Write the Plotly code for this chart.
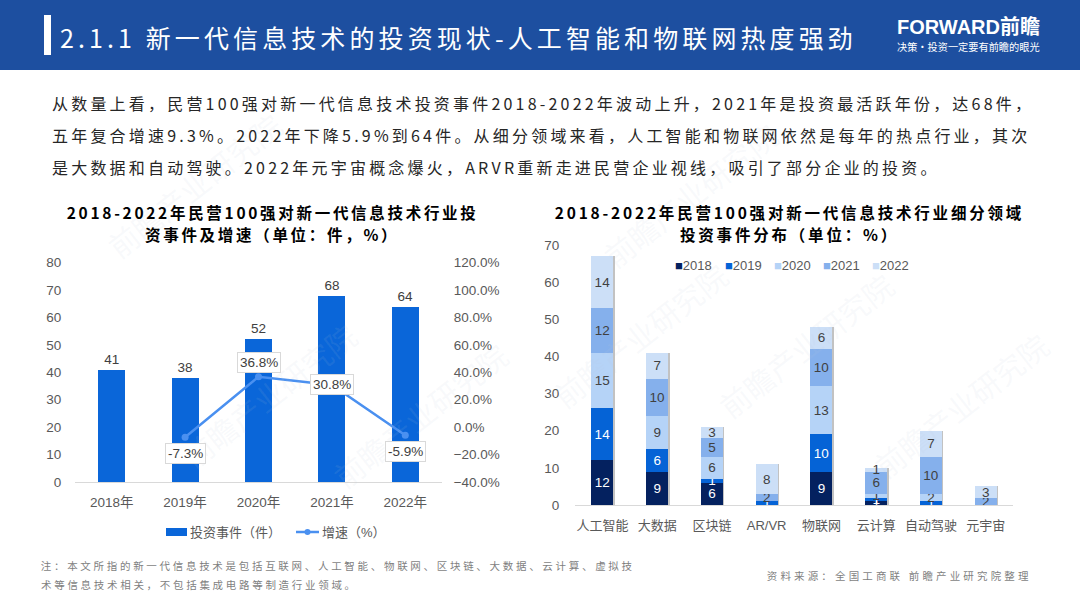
import json
import plotly.graph_objects as go

W, H = 1080, 607
CJK = "Noto Sans CJK SC"
NUM = "Liberation Sans, Noto Sans CJK SC"

# left chart
years = ["2018年", "2019年", "2020年", "2021年", "2022年"]
events = [41, 38, 52, 68, 64]
growth = [None, -7.3, 36.8, 30.8, -5.9]
growth_shift = [0, 16, -14, 0, 16]

# right chart
fields = ["人工智能", "大数据", "区块链", "AR/VR", "物联网", "云计算", "自动驾驶", "元宇宙"]
series_names = ["2018", "2019", "2020", "2021", "2022"]
series_vals = [
    [12, 9, 6, 0, 9, 1, 0, 0],
    [14, 6, 1, 1, 10, 1, 1, 0],
    [15, 9, 6, 0, 13, 1, 2, 0],
    [12, 10, 5, 2, 10, 6, 10, 2],
    [14, 7, 3, 8, 6, 1, 7, 3],
]
series_colors = ["#04215F", "#0563D6", "#B5D3F7", "#85B0EC", "#CCDFF7"]
label_colors = ["white", "white", "#404040", "#404040", "#404040"]
totals = [sum(v) for v in zip(*series_vals)]

BAR_BLUE = "#0A66D9"
LINE_BLUE = "#4A90F0"


def px(x):
    return x / W


def py(y):
    return 1 - y / H


fig = go.Figure()

# bar charts
fig.add_trace(go.Bar(x=years, y=events, name="投资事件（件）", width=0.37,
                     marker=dict(color=BAR_BLUE, line=dict(width=0)),
                     text=events, textposition="outside", cliponaxis=False,
                     textfont=dict(size=13.5, color="#404040", family=NUM),
                     xaxis="x", yaxis="y"))
fig.add_trace(go.Scatter(x=years, y=growth, name="增速（%）", mode="lines+markers",
                         line=dict(color=LINE_BLUE, width=2.5), marker=dict(size=7, color=LINE_BLUE),
                         xaxis="x", yaxis="y2"))

# shadow behind the stacks
fig.add_trace(go.Bar(x=fields, y=totals, width=0.4, hoverinfo="skip",
                     marker=dict(color="rgba(120,120,120,0.45)", line=dict(width=0)),
                     xaxis="x2", yaxis="y3"))
for name, vals, color, lab in zip(series_names, series_vals, series_colors, label_colors):
    fig.add_trace(go.Bar(x=fields, y=vals, name=name, width=0.4, cliponaxis=False,
                         marker=dict(color=color, line=dict(width=0)),
                         text=[v if v else "" for v in vals], textposition="inside",
                         insidetextanchor="middle", constraintext="none", textangle=0,
                         textfont=dict(size=13.5, color=lab, family=NUM),
                         xaxis="x3", yaxis="y4"))

tick = dict(size=13.5, color="#595959", family=NUM)
L_DOM = [px(75), px(442)]
R_DOM = [px(575), px(1013)]
L_Y = [py(482), py(262.7)]
R_Y = [py(505), py(245)]

# the keys are drawn by hand below, a native legend can't make them this small
fig.update_layout(
    width=W, height=H, margin=dict(l=0, r=0, t=0, b=0), autosize=False,
    paper_bgcolor="white", plot_bgcolor="rgba(0,0,0,0)", barmode="stack", showlegend=False,
    font=dict(family=CJK),
    xaxis=dict(domain=L_DOM, range=[-0.5, 4.5], anchor="y", showgrid=False, tickfont=tick, showline=True,
               linecolor="#D9D9D9", linewidth=1, ticks="outside", ticklen=8, tickcolor="rgba(0,0,0,0)"),
    yaxis=dict(domain=L_Y, range=[0, 80], dtick=10, showgrid=False, zeroline=False, tickfont=tick,
               ticks="outside", ticklen=10, tickcolor="rgba(0,0,0,0)"),
    yaxis2=dict(domain=L_Y, range=[-40, 120], dtick=20, overlaying="y", side="right", anchor="x", showgrid=False,
                zeroline=False, tickfont=tick, ticksuffix="%", tickformat=".1f",
                ticks="outside", ticklen=8, tickcolor="rgba(0,0,0,0)"),
    xaxis2=dict(domain=[px(576.5), px(1014.5)], range=[-0.5, 7.5], anchor="y3", visible=False),
    yaxis3=dict(domain=R_Y, range=[0, 70], anchor="x2", visible=False),
    xaxis3=dict(domain=R_DOM, range=[-0.5, 7.5], anchor="y4", showgrid=False,
                tickfont=dict(size=13, color="#595959", family=NUM),
                showline=True, linecolor="#D9D9D9", linewidth=1, ticks="outside", ticklen=8, tickcolor="rgba(0,0,0,0)"),
    yaxis4=dict(domain=R_Y, range=[0, 70], dtick=10, anchor="x3", showgrid=False, zeroline=False, tickfont=tick,
                ticks="outside", ticklen=12, tickcolor="rgba(0,0,0,0)"),
)
# template turns automargin on, and that squeezes the page vertically
fig.update_xaxes(automargin=False)
fig.update_yaxes(automargin=False)

# header band, accent
fig.add_shape(type="rect", xref="paper", yref="paper", x0=0, x1=1, y0=py(70), y1=1,
              fillcolor="#1D4FA0", line_width=0, layer="below")
fig.add_shape(type="rect", xref="paper", yref="paper", x0=px(44), x1=px(51), y0=py(55), y1=py(15),
              fillcolor="white", line_width=0, layer="below")

# left legend keys
fig.add_shape(type="rect", xref="paper", yref="paper", x0=px(166), x1=px(187), y0=py(536), y1=py(528),
              fillcolor=BAR_BLUE, line_width=0)
fig.add_shape(type="line", xref="paper", yref="paper", x0=px(296), x1=px(319), y0=py(532), y1=py(532),
              line=dict(color=LINE_BLUE, width=2.5))
fig.add_shape(type="circle", xref="paper", yref="paper", x0=px(304.5), x1=px(310.5), y0=py(535), y1=py(529),
              fillcolor=LINE_BLUE, line_width=0)
for label, lx in [("投资事件（件）", 188), ("增速（%）", 320)]:
    fig.add_annotation(text=label, xref="paper", yref="paper", x=px(lx), y=py(532), xanchor="left", yanchor="middle",
                       showarrow=False, font=dict(size=13, color="#595959", family=NUM))

# watermarks
for wx, wy in [(170, 480), (640, 420), (905, 430), (1060, 490), (95, 100), (690, 110), (420, 500)]:
    fig.add_annotation(text="前瞻产业研究院", xref="paper", yref="paper", x=px(wx), y=py(wy), showarrow=False,
                       textangle=-38, font=dict(size=30, color="rgba(190,200,215,0.10)", family=CJK))

# text blocks: text, left, centre y, size, colour, bold, letter spacing
texts = [
    ("2.1.1 新一代信息技术的投资现状-人工智能和物联网热度强劲", 58, 37, 25, "white", False, 4.1),
    ("决策·投资一定要有前瞻的眼光", 895, 46, 10.2, "white", False, 0),
    ("从数量上看，民营100强对新一代信息技术投资事件2018-2022年波动上升，2021年是投资最活跃年份，达68件，", 50, 103, 16, "#262626", False, 3.2),
    ("五年复合增速9.3%。2022年下降5.9%到64件。从细分领域来看，人工智能和物联网依然是每年的热点行业，其次", 50, 135, 16, "#262626", False, 3.2),
    ("是大数据和自动驾驶。2022年元宇宙概念爆火，ARVR重新走进民营企业视线，吸引了部分企业的投资。", 50, 167, 16, "#262626", False, 3.2),
    ("2018-2022年民营100强对新一代信息技术行业投", 65, 212, 15.5, "black", True, 2.7),
    ("资事件及增速（单位：件，%）", 143, 234, 15.5, "black", True, 2.7),
    ("2018-2022年民营100强对新一代信息技术行业细分领域", 553, 212, 15.5, "black", True, 2.8),
    ("投资事件分布（单位：%）", 678, 234, 15.5, "black", True, 2.8),
    ("注：本文所指的新一代信息技术是包括互联网、人工智能、物联网、区块链、大数据、云计算、虚拟技", 39, 565, 10.5, "#7F7F7F", False, 2.7),
    ("术等信息技术相关，不包括集成电路等制造行业领域。", 39, 584, 10.5, "#7F7F7F", False, 2.7),
    ("资料来源：全国工商联 前瞻产业研究院整理", 765, 575, 10.5, "#7F7F7F", False, 3.15),
]
spacing = {}
for text, x, y, size, color, bold, ls in texts:
    label = f"<b>{text}</b>" if bold else text
    fig.add_annotation(text=label, xref="paper", yref="paper", x=px(x), y=py(y),
                       xanchor="left", yanchor="middle", showarrow=False, font=dict(size=size, color=color, family=CJK))
    if ls:
        spacing[label] = ls

# logo
fig.add_annotation(text="<b>FORWARD前瞻</b>", xref="paper", yref="paper", x=px(895), y=py(27), xanchor="left",
                   yanchor="middle", showarrow=False, font=dict(size=20, color="white", family=NUM))

# growth labels in boxes
for yr, g, shift in zip(years, growth, growth_shift):
    if g is None:
        continue
    fig.add_annotation(text=f"{g:.1f}%", x=yr, y=g, xref="x", yref="y2", showarrow=False, yshift=-shift,
                       font=dict(size=13.5, color="#404040", family=NUM), bgcolor="white",
                       bordercolor="#D9D9D9", borderwidth=1, borderpad=2)

# right legend, small squares
leg_x = [673, 723, 772, 821, 870]
for name, color, lx in zip(series_names, series_colors, leg_x):
    fig.add_annotation(text=f'<span style="color:{color}">■</span>{name}', xref="paper", yref="paper", x=px(lx), y=py(265),
                       xanchor="left", yanchor="middle", showarrow=False,
                       font=dict(size=13, color="#595959", family=NUM))

# annotation text is centred in its box, so widened lines get pushed back to their left edge
post = (
    "document.body.style.margin='0';"
    f"var sp={json.dumps(spacing, ensure_ascii=False)};"
    "document.querySelectorAll('.annotation-text').forEach(function(t){"
    "var k=t.getAttribute('data-unformatted');if(sp[k]){"
    "var w0=t.getBBox().width;t.style.letterSpacing=sp[k]+'px';var w1=t.getBBox().width;"
    "t.setAttribute('transform','translate('+((w1-w0)/2)+',0)');}});"
)
fig.write_html("out.html", post_script=post, config={"displayModeBar": False})
